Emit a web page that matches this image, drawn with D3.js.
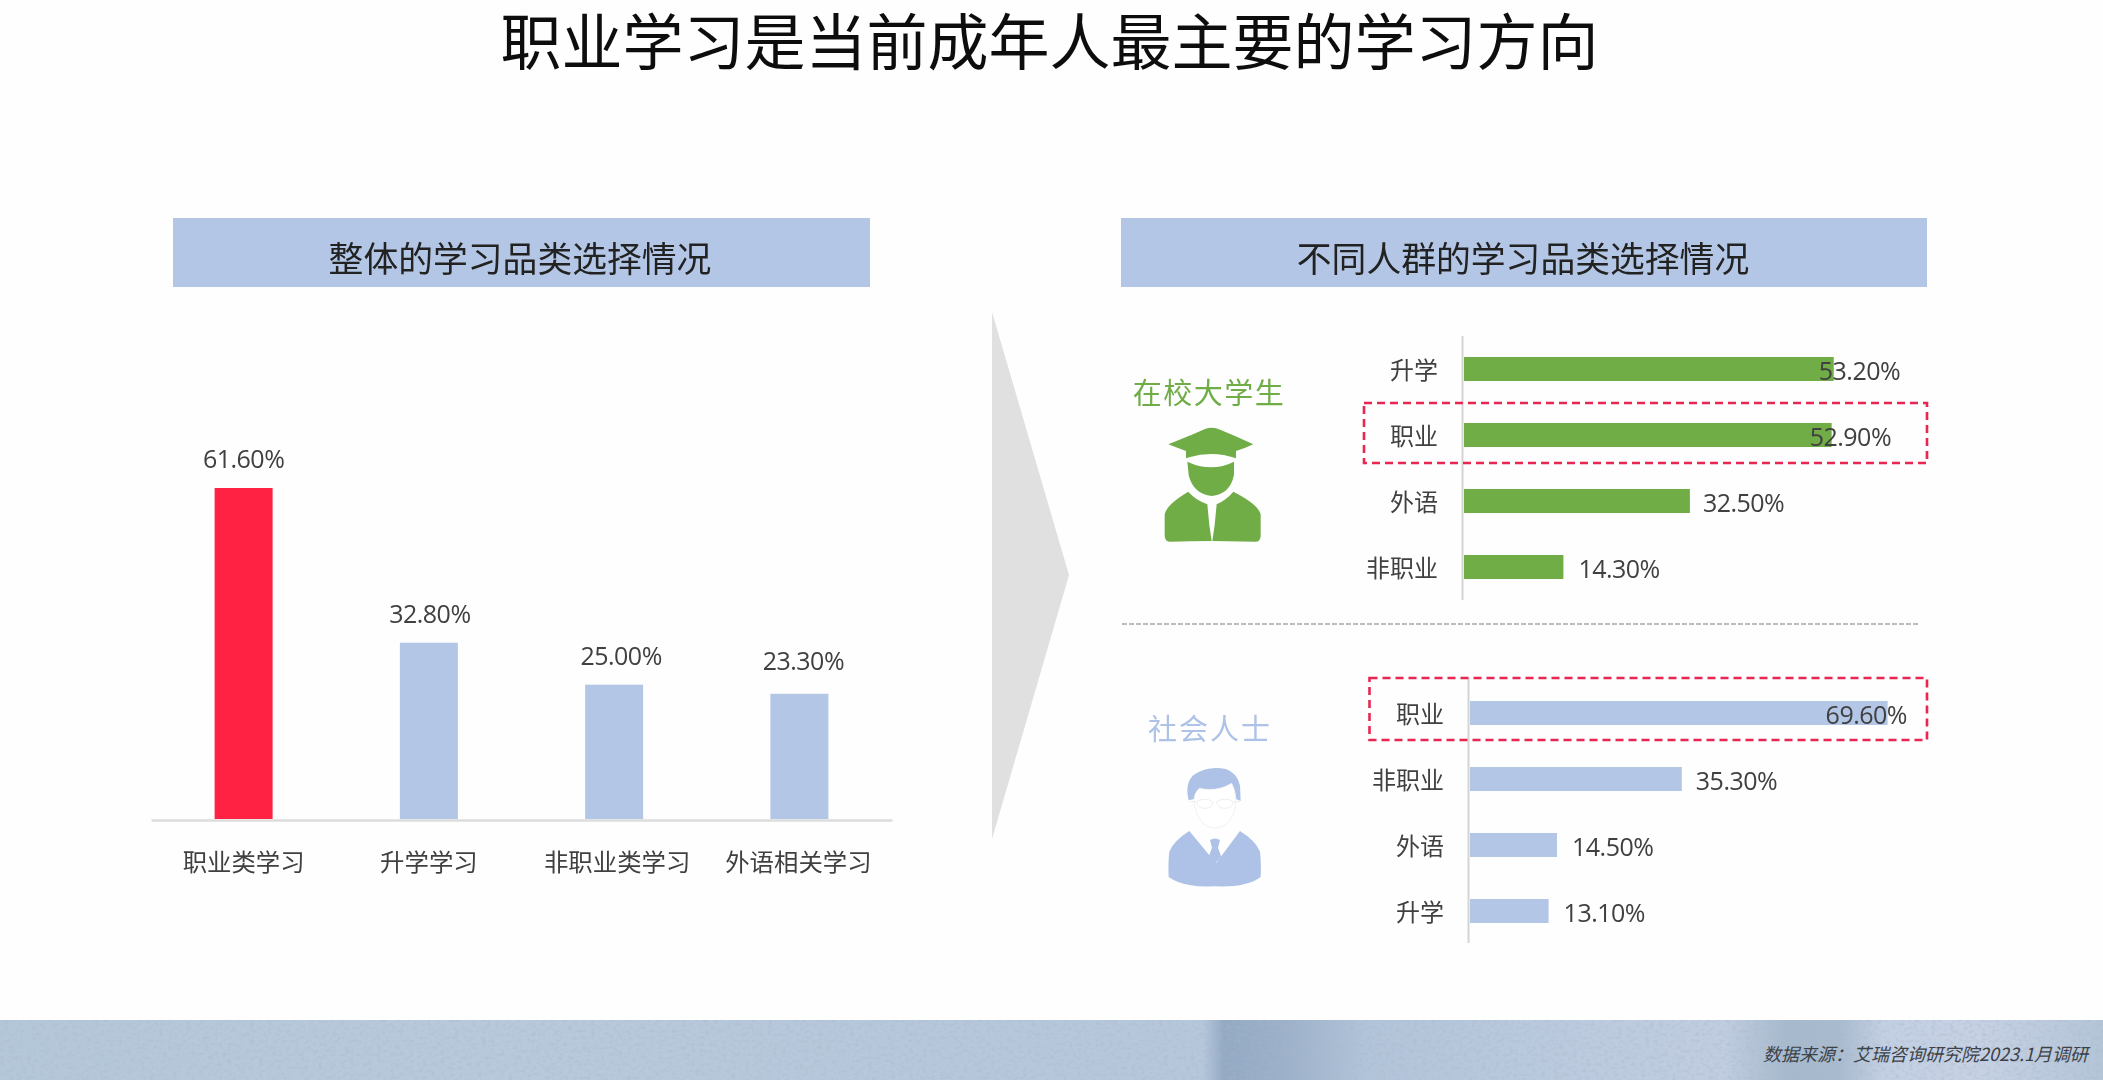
<!DOCTYPE html>
<html lang="zh"><head><meta charset="utf-8">
<script src="https://cdn.jsdelivr.net/npm/d3@7/dist/d3.min.js"></script>
<style>
html,body{margin:0;padding:0;background:#fefefe;overflow:hidden}
svg{display:block}
text{font-family:"Noto Sans CJK SC","Noto Sans",sans-serif}
.num{font-family:"Open Sans","Noto Sans",sans-serif;font-size:25px;fill:#404040;letter-spacing:-.5px}
.cat text{fill:#404040}
</style></head><body>
<svg id="c" width="2103" height="1080"></svg>
<script>
const pageTitle = "职业学习是当前成年人最主要的学习方向";
const leftHeader = "整体的学习品类选择情况";
const rightHeader = "不同人群的学习品类选择情况";
const sourceNote = "数据来源：艾瑞咨询研究院2023.1月调研";

const overallCats = ["职业类学习","升学学习","非职业类学习","外语相关学习"];
const overallVals = [61.6,32.8,25.0,23.3];

const studentName = "在校大学生";
const studentCats = ["升学","职业","外语","非职业"];
const studentVals = [53.2,52.9,32.5,14.3];

const workerName = "社会人士";
const workerCats = ["职业","非职业","外语","升学"];
const workerVals = [69.6,35.3,14.5,13.1];

const BLUE="#b3c6e5", GREEN="#70ad47", RED="#ff2343", PERSON="#adc2e6";
const svg=d3.select("#c");
const defs=svg.append("defs");

// footer band
const grad=defs.append("linearGradient").attr("id","band");
[[0,"#b4c7d9"],[.25,"#b8c9db"],[.45,"#b6c7dc"],[.572,"#b6c7dc"],[.582,"#93a9c4"],[.61,"#9cb0ca"],[.65,"#b2c4da"],[.76,"#bccbdf"],[.82,"#c0cde0"],[.85,"#a6b9cd"],[.875,"#a9bbcf"],[.895,"#c3cfe3"],[.94,"#c6d1e4"],[1,"#b4c5d8"]]
  .forEach(s=>grad.append("stop").attr("offset",s[0]).attr("stop-color",s[1]));
const noise=defs.append("filter").attr("id","grain").attr("x",0).attr("y",0).attr("width","100%").attr("height","100%");
noise.append("feTurbulence").attr("type","fractalNoise").attr("baseFrequency","0.22 0.3").attr("numOctaves",3).attr("seed",7);
noise.append("feColorMatrix").attr("values","0 0 0 0 .4  0 0 0 0 .47  0 0 0 0 .55  0 0 0 1.1 -.5");
noise.append("feGaussianBlur").attr("stdDeviation",.7);
const soft=defs.append("filter").attr("id","soft");
soft.append("feGaussianBlur").attr("stdDeviation",.55);

svg.append("rect").attr("x",0).attr("y",1020).attr("width",2103).attr("height",60).attr("fill","url(#band)");
svg.append("rect").attr("x",0).attr("y",1020).attr("width",2103).attr("height",60).attr("filter","url(#grain)");

const g=svg.append("g").attr("filter","url(#soft)");

g.append("text").attr("x",1049.5).attr("y",65).attr("text-anchor","middle").attr("font-size",61)
  .style("font-family",'"Liberation Sans","Noto Sans CJK SC",sans-serif').attr("fill","#111").text(pageTitle);

[[173,697,leftHeader,520],[1121,806,rightHeader,1523]].forEach(([x,w,t,cx])=>{
  g.append("rect").attr("x",x).attr("y",218).attr("width",w).attr("height",69).attr("fill",BLUE);
  g.append("text").attr("x",cx).attr("y",272).attr("text-anchor","middle").attr("font-size",34.8).attr("fill","#222").text(t);
});

// central arrow
g.append("path").attr("d","M992 312 L1069 575 L992 839 Z").attr("fill","#e0e0e0");

// overall chart
const x0=d3.scaleBand().domain(overallCats).range([151,892]).paddingInner(.687).paddingOuter(.3435);
const y0=d3.scaleLinear().domain([0,61.6]).range([819,488]);
const col0=g.append("g");
col0.selectAll("rect").data(overallVals).join("rect")
  .attr("x",(d,i)=>x0(overallCats[i])).attr("width",x0.bandwidth())
  .attr("y",d=>y0(d)).attr("height",d=>y0(0)-y0(d))
  .attr("fill",(d,i)=>i===0?RED:BLUE);
const axB=g.append("g").attr("class","cat").attr("transform","translate(0,820)")
  .call(d3.axisBottom(x0).tickSize(0).tickPadding(34));
axB.select(".domain").attr("stroke","#dcdcdc").attr("stroke-width",2.5);
axB.selectAll("text").attr("font-size",24.4).attr("fill","#404040").attr("font-family",null)
  .attr("dx",(d,i)=>[0,0,3,-1][i]);
const nudge0=[0,1,7,4];
const rise0=[20,20,20,24];
col0.selectAll("text").data(overallVals).join("text").attr("class","num")
  .attr("x",(d,i)=>x0(overallCats[i])+x0.bandwidth()/2+nudge0[i])
  .attr("y",(d,i)=>y0(d)-rise0[i]).attr("text-anchor","middle").text(d=>d.toFixed(2)+"%");

// horizontal panels
function panel(cats,vals,color,o){
  const y=d3.scaleBand().domain(cats).range(o.yr).paddingInner(.636).paddingOuter(.318);
  const x=d3.scaleLinear().domain([0,100]).range([o.x0,o.x0+o.k*100]);
  g.append("rect").attr("x",o.x0-2.5).attr("y",o.axis[0]).attr("width",2).attr("height",o.axis[1]-o.axis[0]).attr("fill","#d4d4d4");
  g.selectAll(null).data(vals).join("rect")
    .attr("x",o.x0).attr("y",(d,i)=>y(cats[i])).attr("height",y.bandwidth())
    .attr("width",d=>x(d)-x(0)).attr("fill",color);
  const ax=g.append("g").attr("class","cat").attr("transform",`translate(${o.x0-2},2.5)`)
    .call(d3.axisLeft(y).tickSize(0).tickPadding(o.pad));
  ax.select(".domain").remove();
  ax.selectAll("text").attr("font-size",24).attr("fill","#404040").attr("font-family",null);
  g.selectAll(null).data(vals).join("text").attr("class","num")
    .attr("x",(d,i)=>x(d)+o.gap[i]).attr("y",(d,i)=>y(cats[i])+y.bandwidth()/2+11).text(d=>d.toFixed(2)+"%");
}
panel(studentCats,studentVals,GREEN,{x0:1464,k:6.95,yr:[336,600],axis:[336,600],pad:24,gap:[-15,-22,13,15]});
panel(workerCats,workerVals,BLUE,{x0:1470,k:6.0,yr:[680,944],axis:[678,943],pad:24,gap:[-62,14,15,15]});

// highlight boxes and separator
[[1364,403,563,60],[1369.5,678,557.5,62]].forEach(([x,y,w,h])=>
  g.append("rect").attr("x",x).attr("y",y).attr("width",w).attr("height",h).attr("fill","none")
   .attr("stroke","#e8264f").attr("stroke-width",2.6).attr("stroke-dasharray","8 5"));
g.append("line").attr("x1",1122).attr("x2",1920).attr("y1",624).attr("y2",624)
  .attr("stroke","#bdbdbd").attr("stroke-width",2).attr("stroke-dasharray","5 2");

// group names
g.append("text").attr("x",1209).attr("y",404).attr("text-anchor","middle").attr("font-size",29).attr("letter-spacing",1.5).attr("fill",GREEN).text(studentName);
g.append("text").attr("x",1210).attr("y",740).attr("text-anchor","middle").attr("font-size",29).attr("letter-spacing",2).attr("fill",PERSON).text(workerName);

// graduate icon
const ic1=g.append("g").attr("transform","translate(1150,415) scale(.3333)").attr("fill",GREEN);
ic1.append("path").attr("d","M55 88 Q120 62 165 42 Q185 34 205 42 Q255 62 310 88 Q285 100 258 108 L258 130 Q185 104 108 130 L108 108 Q85 100 55 88Z");
ic1.append("path").attr("d","M112 140 Q185 174 252 140 L252 180 Q240 238 185 243 Q130 238 116 180Z");
ic1.append("path").attr("d","M62 380 Q44 380 44 362 L44 298 Q50 268 115 230 Q135 254 172 268 L178 330 L185 378Z");
ic1.append("path").attr("d","M316 380 Q332 380 332 362 L332 298 Q325 268 250 230 Q230 254 200 268 L194 330 L187 378Z");

// professional icon
const ic2=g.append("g").attr("transform","translate(1150,755) scale(.3333)");
ic2.append("path").attr("fill",PERSON).attr("d","M116 136 Q104 90 128 62 Q170 30 228 42 Q262 55 270 92 L272 138 L258 132 Q256 105 245 85 Q200 112 148 100 Q134 112 132 132Z");
ic2.append("path").attr("fill","#fff").attr("stroke","#e8eaee").attr("stroke-width",2).attr("d","M132 132 Q134 112 148 100 Q200 112 245 85 Q256 105 258 132 Q258 185 225 210 Q195 228 165 210 Q134 185 132 132Z");
ic2.append("path").attr("fill","none").attr("stroke","#eceef2").attr("stroke-width",3).attr("d","M140 140 Q165 125 188 140 Q190 160 165 160 Q142 160 140 140Z M200 140 Q225 125 250 140 Q248 160 225 160 Q202 160 200 140Z M118 140 L140 140 M250 140 L270 140");
ic2.append("path").attr("fill",PERSON).attr("d","M118 228 Q70 258 58 290 Q54 320 56 366 Q100 398 195 394 Q290 398 332 366 Q334 320 330 290 Q318 258 270 228 L198 325 Z");
ic2.append("path").attr("fill",PERSON).attr("d","M180 255 Q195 246 210 255 L204 278 L214 305 L196 325 L176 305 L186 278Z");

// source
svg.append("text").attr("x",2088).attr("y",1061).attr("text-anchor","end").attr("font-size",18).attr("font-style","italic").attr("fill","#3c4248").text(sourceNote);
</script></body></html>
